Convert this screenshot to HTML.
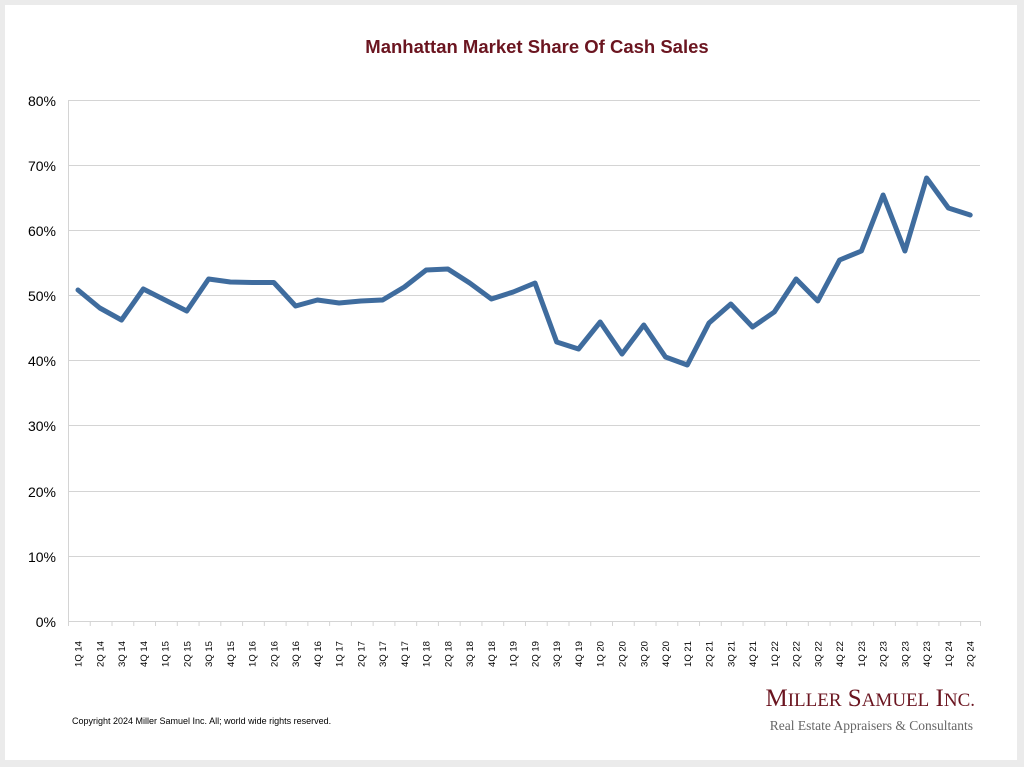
<!DOCTYPE html>
<html><head><meta charset="utf-8"><style>
body{margin:0;background:#ebebeb;}
svg{display:block}
</style></head><body>
<svg width="1024" height="767" xmlns="http://www.w3.org/2000/svg" font-family="Liberation Sans, Arial, sans-serif">
<rect x="0" y="0" width="1024" height="767" fill="#ebebeb"/>
<rect x="5" y="5" width="1012" height="755" fill="#fff"/>
<text x="537" y="53" text-anchor="middle" font-size="18.5" font-weight="bold" fill="#6b1520">Manhattan Market Share Of Cash Sales</text>
<g stroke="#d4d4d4" stroke-width="1">
<line x1="68" y1="100.5" x2="980" y2="100.5"/>
<line x1="68" y1="165.5" x2="980" y2="165.5"/>
<line x1="68" y1="230.5" x2="980" y2="230.5"/>
<line x1="68" y1="295.5" x2="980" y2="295.5"/>
<line x1="68" y1="360.5" x2="980" y2="360.5"/>
<line x1="68" y1="425.5" x2="980" y2="425.5"/>
<line x1="68" y1="491.5" x2="980" y2="491.5"/>
<line x1="68" y1="556.5" x2="980" y2="556.5"/>
<line x1="68" y1="621.5" x2="980" y2="621.5"/>
<line x1="68.5" y1="100" x2="68.5" y2="621"/>
</g>
<g font-size="14" fill="#000" text-anchor="end">
<text x="56" y="106">80%</text><text x="56" y="171">70%</text><text x="56" y="236">60%</text>
<text x="56" y="301">50%</text><text x="56" y="366">40%</text><text x="56" y="431">30%</text>
<text x="56" y="497">20%</text><text x="56" y="562">10%</text><text x="56" y="627">0%</text>
</g>
<g id="ticks" stroke="#d4d4d4"></g>
<g id="labels" font-size="9.5" fill="#000"></g>
<polyline id="line" fill="none" stroke="#3f6c9e" stroke-width="5" stroke-linejoin="round" stroke-linecap="round"/>
<text x="72" y="724" font-size="9" fill="#000">Copyright 2024 Miller Samuel Inc.  All; world wide rights reserved.</text>
<text x="975" y="706" text-anchor="end" font-family="Liberation Serif, serif" font-size="25" fill="#6b1520">M<tspan font-size="19">ILLER</tspan> S<tspan font-size="19">AMUEL</tspan> I<tspan font-size="19">NC.</tspan></text>
<text x="973" y="730" text-anchor="end" font-family="Liberation Serif, serif" font-size="13.5" fill="#666">Real Estate Appraisers &amp; Consultants</text>
<script>
var ys=[290,308,320,289,300,311,279,282,282.5,282.5,306,300,303,301,300,287,270,269,283,299,292,283,342,349,322,354,325,357,365,323,304,327,312,279,301,260,251,195,251,178,208,215];
var labs=[];for(var y=14;y<=24;y++)for(var q=1;q<=4;q++)labs.push(q+"Q "+y);labs=labs.slice(0,42);
var s=21.76,pts=[],ns="http://www.w3.org/2000/svg";
var T=document.getElementById("ticks"),L=document.getElementById("labels");
for(var i=0;i<42;i++){var x=78+i*s;pts.push(x.toFixed(1)+","+ys[i]);
var t=document.createElementNS(ns,"line");var tx=68+i*s+0.5;t.setAttribute("x1",tx);t.setAttribute("x2",tx);t.setAttribute("y1",621);t.setAttribute("y2",626);T.appendChild(t);
var e=document.createElementNS(ns,"text");e.setAttribute("transform","translate("+(x+3.5)+",654) rotate(-90)");e.setAttribute("text-anchor","middle");e.textContent=labs[i];L.appendChild(e);}
var t=document.createElementNS(ns,"line");t.setAttribute("x1",980.5);t.setAttribute("x2",980.5);t.setAttribute("y1",621);t.setAttribute("y2",626);T.appendChild(t);
document.getElementById("line").setAttribute("points",pts.join(" "));
</script>
</svg>
</body></html>
